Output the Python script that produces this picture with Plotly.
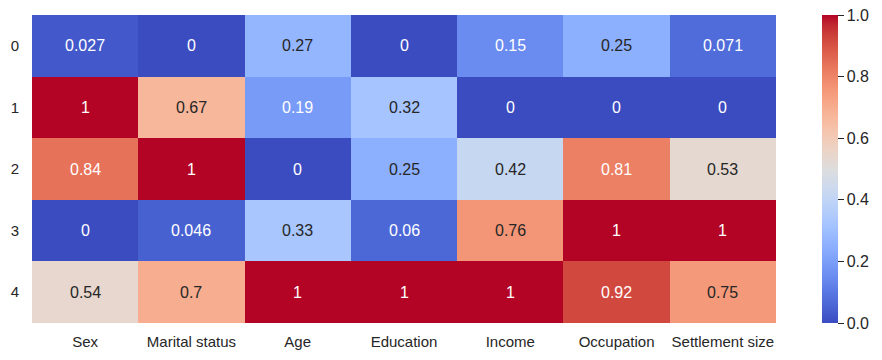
import plotly.graph_objects as go

columns = ["Sex", "Marital status", "Age", "Education", "Income", "Occupation", "Settlement size"]
rows = ["0", "1", "2", "3", "4"]
values = [
    [0.027, 0.0, 0.27, 0.0, 0.15, 0.25, 0.071],
    [1.0, 0.67, 0.19, 0.32, 0.0, 0.0, 0.0],
    [0.84, 1.0, 0.0, 0.25, 0.42, 0.81, 0.53],
    [0.0, 0.046, 0.33, 0.06, 0.76, 1.0, 1.0],
    [0.54, 0.7, 1.0, 1.0, 1.0, 0.92, 0.75],
]
cbar_ticks = [0.0, 0.2, 0.4, 0.6, 0.8, 1.0]

# matplotlib "coolwarm" (Moreland) control points
_cw = [
    (59, 76, 192), (68, 90, 204), (77, 104, 215), (87, 117, 225), (98, 130, 234),
    (108, 142, 241), (119, 154, 247), (130, 165, 251), (141, 176, 254), (152, 185, 255),
    (163, 194, 255), (174, 201, 253), (184, 208, 249), (194, 213, 244), (204, 217, 238),
    (213, 219, 230), (221, 221, 221), (229, 216, 209), (236, 211, 197), (241, 204, 185),
    (245, 196, 173), (247, 187, 160), (247, 177, 148), (247, 166, 135), (244, 154, 123),
    (241, 141, 111), (236, 127, 99), (229, 112, 88), (222, 96, 77), (213, 80, 66),
    (203, 62, 56), (192, 40, 47), (180, 4, 38),
]
n = len(_cw) - 1
colorscale = [[i / n, "rgb(%d,%d,%d)" % c] for i, c in enumerate(_cw)]


def cmap(v):
    p = min(max(v, 0), 1) * n
    i = min(int(p), n - 1)
    f = p - i
    a, b = _cw[i], _cw[i + 1]
    return tuple(a[k] + (b[k] - a[k]) * f for k in range(3))


def lum(rgb):
    out = []
    for c in rgb:
        c = c / 255
        out.append(c / 12.92 if c <= 0.03928 else ((c + 0.055) / 1.055) ** 2.4)
    return 0.2126 * out[0] + 0.7152 * out[1] + 0.0722 * out[2]


def fmt(v):
    return "%.2g" % v


FONT = "Liberation Sans, Arial, sans-serif"

fig = go.Figure(go.Heatmap(
    z=values, x=columns, y=rows, colorscale=colorscale, zmin=0, zmax=1,
    xgap=0, ygap=0, hoverinfo="skip",
    colorbar=dict(
        x=(822 - 32) / 744, xanchor="left", xref="paper",
        y=0, yanchor="bottom", len=1, lenmode="fraction", ypad=0, xpad=0,
        thickness=16, thicknessmode="pixels", outlinewidth=0,
        ticks="outside", ticklen=6, tickwidth=1.2, tickcolor="#262626",
        tickmode="array", tickvals=cbar_ticks, ticktext=["%.1f" % t for t in cbar_ticks],
        tickfont=dict(family=FONT, size=16, color="#262626"),
    ),
))

annotations = []
for r, row in enumerate(values):
    for c, v in enumerate(row):
        color = "#262626" if lum(cmap(v)) > 0.408 else "white"
        annotations.append(dict(
            x=columns[c], y=rows[r], text=fmt(v), showarrow=False,
            font=dict(family=FONT, size=16, color=color),
        ))

fig.update_layout(
    width=882, height=360,
    margin=dict(l=32, r=106, t=15, b=37, autoexpand=False),
    paper_bgcolor="white", plot_bgcolor="white",
    annotations=annotations,
    xaxis=dict(showgrid=False, zeroline=False, ticks="", ticklabelstandoff=8, automargin=False,
               tickfont=dict(family=FONT, size=15, color="#262626")),
    yaxis=dict(showgrid=False, zeroline=False, ticks="", autorange="reversed", ticklabelstandoff=12,
               automargin=False,
               tickfont=dict(family=FONT, size=15, color="#262626")),
)

fig.write_html("out.html", config={"displayModeBar": False},
               post_script="document.body.style.margin='0';document.body.style.padding='0';")
